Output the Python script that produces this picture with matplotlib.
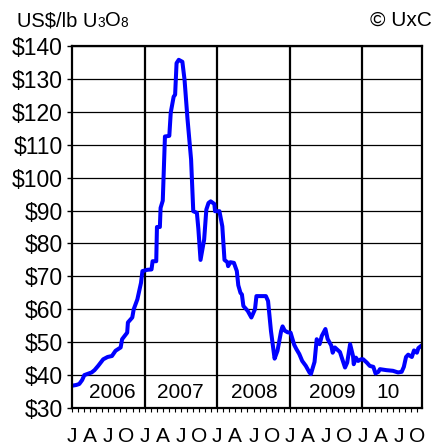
import matplotlib
matplotlib.use('Agg')
import matplotlib.pyplot as plt
from matplotlib.ticker import FixedLocator, FixedFormatter

# ---- data (decimal years, US$/lb U3O8 spot price) ----
dates = [2006.01, 2006.06, 2006.10, 2006.14, 2006.17, 2006.27, 2006.31, 2006.36,
         2006.43, 2006.49, 2006.55, 2006.60, 2006.67, 2006.69, 2006.76, 2006.77,
         2006.83, 2006.85, 2006.90, 2006.95, 2006.97,
         2007.04, 2007.095, 2007.11, 2007.16, 2007.17, 2007.21, 2007.22, 2007.25,
         2007.28, 2007.34, 2007.36, 2007.40, 2007.42, 2007.44, 2007.47, 2007.52,
         2007.55, 2007.59, 2007.64, 2007.67, 2007.72, 2007.74, 2007.77, 2007.82,
         2007.85, 2007.88, 2007.91, 2007.96, 2007.97,
         2008.03, 2008.07, 2008.10, 2008.14, 2008.15, 2008.18, 2008.23, 2008.27,
         2008.29, 2008.32, 2008.34, 2008.36, 2008.42, 2008.47, 2008.52, 2008.54,
         2008.67, 2008.70, 2008.74, 2008.79, 2008.83, 2008.88, 2008.90, 2008.93,
         2008.97,
         2009.01, 2009.06, 2009.09, 2009.13, 2009.17, 2009.22, 2009.27, 2009.29,
         2009.34, 2009.37, 2009.41, 2009.44, 2009.49, 2009.52, 2009.57, 2009.59,
         2009.62, 2009.69, 2009.73, 2009.76, 2009.79, 2009.83, 2009.87, 2009.88,
         2009.91, 2009.94, 2009.98,
         2010.01, 2010.06, 2010.10, 2010.15, 2010.18, 2010.22, 2010.24, 2010.33,
         2010.42, 2010.49, 2010.54, 2010.57, 2010.60, 2010.63, 2010.68, 2010.71,
         2010.75, 2010.77, 2010.815]
prices = [36.8, 37.0, 37.3, 38.5, 40.0, 40.8, 41.5, 42.8,
          44.8, 45.5, 45.8, 47.4, 48.4, 50.9, 52.9, 56.0,
          57.5, 60.0, 63.0, 68.0, 71.6,
          72.0, 72.1, 74.6, 74.6, 85.0, 85.0, 90.8, 93.0,
          112.5, 112.7, 119.8, 124.6, 125.2, 134.8, 135.8, 135.2,
          129.7, 118.0, 105.5, 89.8, 89.3, 84.5, 75.0, 81.2,
          90.3, 92.3, 92.8, 92.0, 89.8,
          89.8, 85.2, 75.0, 74.3, 73.1, 74.3, 74.1, 71.6,
          67.3, 65.0, 64.5, 61.0, 59.5, 57.5, 60.0, 64.0,
          64.0, 62.5, 53.4, 45.0, 47.4, 53.4, 54.8, 53.5,
          53.0,
          52.9, 49.2, 47.9, 46.4, 44.3, 42.8, 40.8, 40.3,
          44.0, 50.9, 49.4, 51.9, 54.0, 51.0, 49.0, 46.8,
          48.4, 47.0, 44.3, 42.3, 43.8, 49.4, 45.8, 43.3,
          45.3, 44.3, 44.8,
          44.8, 43.8, 42.8, 42.5, 40.5, 41.0, 41.8, 41.5,
          41.3, 40.8, 41.0, 42.5, 45.5, 46.2, 45.5, 47.5,
          46.8, 48.2, 49.0]

y_values = [30, 40, 50, 60, 70, 80, 90, 100, 110, 120, 130, 140]
y_labels = ['$30', '$40', '$50', '$60', '$70', '$80', '$90', '$100',
            '$110', '$120', '$130', '$140']
quarter_letters = ['J', 'A', 'J', 'O']
years = [2006, 2007, 2008, 2009, 2010]
year_labels = ['2006', '2007', '2008', '2009', '10']

plt.rcParams['font.family'] = ['Liberation Sans', 'DejaVu Sans']

W, H = 434, 448
fig = plt.figure(figsize=(W / 100, H / 100), dpi=100)
ax = fig.add_axes([72 / W, 1 - 408 / H, 350 / W, 362 / H])

ax.set_xlim(2006, 2010.82)
ax.set_ylim(30, 140)

# grid
ax.set_yticks(y_values)
ax.set_yticklabels(y_labels)
ax.yaxis.grid(True, color='black', lw=0.9, zorder=1)
for yr in years[1:]:
    ax.axvline(yr, color='black', lw=1.6, zorder=2)

# x ticks: monthly ticks, quarter letters
month_pos = [years[0] + m / 12 for m in range(0, 12 * 5) if years[0] + m / 12 <= 2010.80]
month_lab = [quarter_letters[(m % 12) // 3] if m % 3 == 0 else '' for m in range(len(month_pos))]
ax.xaxis.set_major_locator(FixedLocator(month_pos))
ax.xaxis.set_major_formatter(FixedFormatter(month_lab))

ax.tick_params(axis='y', direction='out', length=3.6, width=1.0, pad=3,
               labelsize=16.5, colors='black')
ax.tick_params(axis='x', direction='out', length=3.0, width=0.8, pad=10.5,
               labelsize=15, colors='black')

for s in ax.spines.values():
    s.set_linewidth(1.6)
    s.set_color('black')
    s.set_zorder(6)

ax.plot(dates, prices, color='#0000ff', lw=2.9, solid_joinstyle='round',
        solid_capstyle='round', zorder=5)

# year labels inside plot
year_frac = [0.56, 0.49, 0.51, 0.59, 0.35]
for yr, lab, fr in zip(years, year_labels, year_frac):
    ax.text(yr + fr, 33.0, lab, ha='center', va='baseline', fontsize=15, zorder=7)

# header texts
t1 = fig.text(17 / W, 1 - 26 / H, 'US$/lb U', fontsize=14.5, va='baseline')
t2 = ax.annotate('3', xy=(1, 0), xycoords=t1, va='bottom', ha='left', fontsize=9.8,
                 annotation_clip=False)
t3 = ax.annotate('O', xy=(1, 0), xycoords=t2, va='bottom', ha='left', fontsize=14.5,
                 annotation_clip=False)
t4 = ax.annotate('8', xy=(1, 0), xycoords=t3, va='bottom', ha='left', fontsize=9.8,
                 annotation_clip=False)
fig.text(432 / W, 1 - 26 / H, '\u00a9 UxC', fontsize=15, va='baseline', ha='right')

fig.savefig('out.png', dpi=100)
